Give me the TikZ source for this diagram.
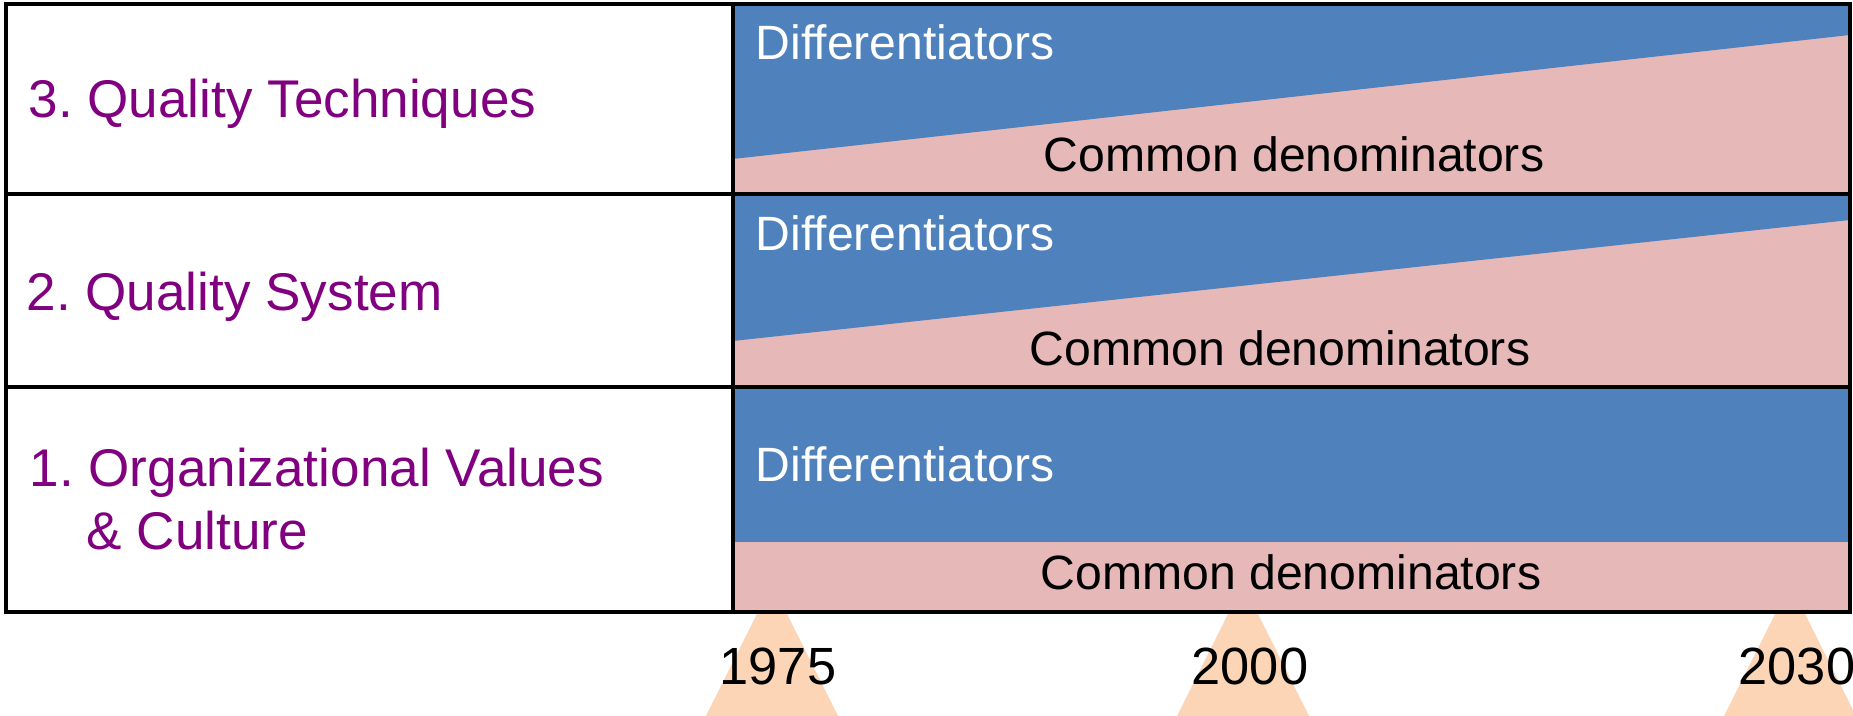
\documentclass[tikz,border=0pt]{standalone}
\usepackage{xcolor}
\usepackage{fontspec}
\setmainfont{Liberation Sans}
\frenchspacing
\usepackage{tikz}
\usetikzlibrary{positioning}
\usetikzlibrary{calc}
\definecolor{diffblue}{RGB}{79,129,189}
\definecolor{commonpink}{RGB}{230,185,184}
\definecolor{yearpeach}{RGB}{251,213,181}
\definecolor{levelpurple}{RGB}{128,0,128}
\tikzstyle{level}=[anchor=base west, inner sep=0, text=levelpurple, font=\fontsize{15.1}{18}\selectfont]
\tikzstyle{diff}=[anchor=base west, inner sep=0, text=white, font=\fontsize{13.7}{16}\selectfont]
\tikzstyle{common}=[anchor=base, inner sep=0, font=\fontsize{13.7}{16}\selectfont]
\tikzstyle{year}=[anchor=base, inner sep=0, font=\fontsize{14.9}{18}\selectfont]
\tikzstyle{grid}=[line width=1.1pt]

\begin{document}
\begin{tikzpicture}[x=0.1mm, y=-0.1mm]
    \useasboundingbox (0,0) rectangle (1853,716);

    % year markers
    \foreach \yr/\xc in {1975/772, 2000/1243, 2030/1790}
    \fill [yearpeach] (\xc,584) -- (\xc+66,716) -- (\xc-66,716) -- cycle;

    % bands
    \fill [commonpink] (733,4) rectangle (1850,612);
    \fill [diffblue] (733,4) -- (1850,4) -- (1850,35) -- (733,159) -- cycle;
    \fill [diffblue] (733,196) -- (1850,196) -- (1850,220) -- (733,341) -- cycle;
    \fill [diffblue] (733,389) rectangle (1850,542);

    % table
    \draw [grid] (6,4) rectangle (1850,612);
    \draw [grid] (733,4) -- (733,612);
    \draw [grid] (6,194) -- (1850,194);
    \draw [grid] (6,387) -- (1850,387);

    \node [level] (level-3) at (28,118) {3. Quality Techniques};
    \node [level] (level-2) at (26,311) {2. Quality System};
    \node [level] (level-1) at (29,487) {1. Organizational Values};
    \node [level] (level-1b) at (86,550) {\& Culture};

    \node [diff] (diff-3) at (755,60) {Differentiators};
    \node [diff] (diff-2) at (755,251) {Differentiators};
    \node [diff] (diff-1) at (755,482) {Differentiators};

    \node [common] (common-3) at (1294,172) {Common denominators};
    \node [common] (common-2) at (1280,366) {Common denominators};
    \node [common] (common-1) at (1291,590) {Common denominators};

    \node [year] (year-1975) at (778,685) {1975};
    \node [year] (year-2000) at (1250,685) {2000};
    \node [year] (year-2030) at (1797,685) {2030};
  \end{tikzpicture}
\end{document}
